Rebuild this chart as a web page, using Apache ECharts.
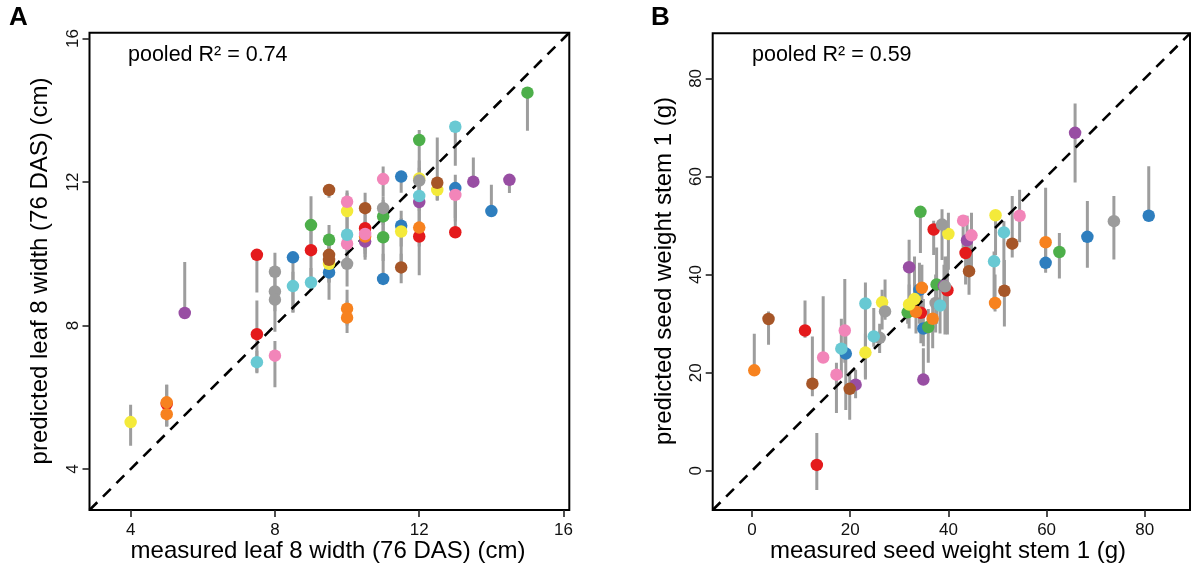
<!DOCTYPE html>
<html>
<head>
<meta charset="utf-8">
<script src="https://cdn.jsdelivr.net/npm/echarts@6/dist/echarts.min.js"></script>
<style>html,body{margin:0;padding:0;background:#fff}#c{width:1192px;height:570px}</style>
</head>
<body>
<div id="c"></div>
<script>
// ---------- Panel A: leaf 8 width, [measured, predicted, low, high] ----------
const A_red    = [[5,5.82,5.19,6.35],[7.5,9.97,8.92,9.97],[7.5,7.76,6.7,8.7],[9,10.1,9.3,10.8],[10.5,10.71,9.9,11.1],[12,10.48,9.4,10.9],[13,10.6,10.6,11.7]];
const A_blue   = [[8.5,9.9,8.36,9.9],[9.5,9.48,8.72,9.9],[11,9.3,9.3,10.0],[11.5,12.15,11.7,12.15],[11.5,10.78,9.7,11.2],[13,11.83,11.0,12.2],[14,11.19,11.19,11.92]];
const A_green  = [[9,10.8,10.0,11.6],[9.5,10.39,9.8,10.8],[11,11.04,10.5,11.5],[11,10.46,9.8,10.9],[12,13.17,12.3,13.45],[15,14.49,13.43,14.49]];
const A_purple = [[5.5,8.35,8.35,9.77],[10.5,10.34,9.83,10.6],[12,11.44,10.6,11.9],[13.5,12.01,12.01,12.68],[14.5,12.06,11.69,12.06]];
const A_orange = [[5,5.86,5.2,6.35],[5,5.53,5.19,6.0],[10,8.47,8.0,9.0],[10,8.22,7.79,8.7],[10.5,10.48,10.0,10.9],[12,10.73,10.2,11.3]];
const A_yellow = [[4,5.31,4.65,5.79],[9.5,9.72,9.2,10.2],[10,11.19,10.6,11.7],[11.5,10.62,10.2,11.0],[12,12.1,11.6,12.4],[12.5,11.78,11.5,12.1]];
const A_brown  = [[9.5,11.78,11.56,11.78],[9.5,9.97,9.4,10.4],[9.5,9.83,9.2,10.3],[10.5,11.27,10.8,11.7],[11.5,9.62,9.18,10.0],[12.5,11.98,11.48,13.24]];
const A_pink   = [[8,7.16,6.28,7.57],[10,11.45,11.0,11.76],[10,10.28,9.8,10.7],[10.5,10.55,10.1,10.9],[11,12.08,11.6,12.43],[13,11.64,10.9,12.0]];
const A_gray   = [[8,9.5,9.0,10.03],[8,8.95,8.4,9.5],[8,8.72,7.83,9.0],[10,9.72,9.09,10.3],[11,11.27,10.8,11.6],[12,12.04,11.5,12.6]];
const A_cyan   = [[7.5,6.98,6.67,7.3],[8.5,9.1,8.36,9.5],[9,9.2,9.0,9.6],[10,10.53,10.1,11.0],[12,11.61,11.2,12.0],[13,13.54,12.45,13.54]];

// ---------- Panel B: seed weight stem 1, [measured, predicted, low, high] ----------
const B_red    = [[10.8,28.6,27.1,34.7],[13.2,1.2,-3.9,7.7],[34.4,32.2,26,38],[37.0,49.2,44,51],[39.8,36.8,27.8,43.7],[43.5,44.4,38,48]];
const B_blue   = [[19.1,23.9,12.4,28],[34.1,36.9,30,42.4],[34.9,29.0,25.4,35],[59.8,42.4,40.4,47],[68.3,47.7,41.4,55.0],[80.8,52.0,52.0,62.1]];
const B_green  = [[31.7,32.3,30,35],[34.3,52.8,44.4,52.8],[35.9,29.3,22,33],[37.6,38.0,30,45.5],[62.6,44.6,39.2,48.5]];
const B_purple = [[21.1,17.55,14.8,20.6],[32.0,41.5,34.9,47.1],[34.9,18.6,18.6,25.0],[39.1,37.7,33,42],[43.8,47.0,40,52],[65.8,68.9,58.8,74.9]];
const B_orange = [[0.47,20.47,20.47,27.96],[33.4,32.4,28,37],[34.6,37.3,31,42],[36.8,31.0,25,35],[49.5,34.2,32.5,40],[59.8,46.6,42.4,57.7]];
const B_yellow = [[23.1,24.1,19,28],[26.5,34.35,28.8,36.9],[32.0,33.9,29,38],[33.1,35.0,31.5,43.7],[40.0,48.3,41,52.6],[49.6,52.1,44,52.1]];
const B_brown  = [[3.37,30.95,25.7,32.5],[12.3,17.76,15.2,27.4],[19.9,16.7,10.4,20],[44.2,40.7,35.9,46],[51.4,36.7,29.4,43],[53.0,46.3,43.5,56]];
const B_pink   = [[14.5,23.1,23.1,35.6],[17.2,19.6,11.8,22],[18.9,28.6,22,39.1],[43.0,51.0,44,51.0],[44.7,48.0,41,52.6],[54.5,52.0,46.6,57.3]];
const B_gray   = [[26.0,27.1,24.0,30],[27.1,32.5,30.8,39],[37.4,34.2,28.2,40],[38.7,50.2,43,53.3],[39.3,37.6,27.8,43.7],[73.7,50.9,43.1,56.0]];
const B_cyan   = [[18.2,24.9,19,31],[23.1,34.1,18.6,38.4],[24.8,27.4,25.3,33.2],[38.3,33.7,28,38],[49.3,42.7,32.9,44.7],[51.3,48.6,38,50.9]];

// axis ranges and tick labels
const A_range = [2.86, 16.16];
const A_ticks = [4, 8, 12, 16];
const B_range = [-8, 89.2];
const B_ticks = [0, 20, 40, 60, 80];

const palette = {red:'#E41A1C', blue:'#2E7EBE', green:'#4DAF4A', purple:'#984EA3', orange:'#F7821F',
  yellow:'#F4EA3A', brown:'#A65628', pink:'#F285B9', gray:'#9B9B9B', cyan:'#68C9D3'};
const groupsA = {red:A_red, blue:A_blue, green:A_green, purple:A_purple, orange:A_orange, yellow:A_yellow, brown:A_brown, pink:A_pink, gray:A_gray, cyan:A_cyan};
const groupsB = {red:B_red, blue:B_blue, green:B_green, purple:B_purple, orange:B_orange, yellow:B_yellow, brown:B_brown, pink:B_pink, gray:B_gray, cyan:B_cyan};

const FONT = 'Liberation Sans, Arial, Helvetica, sans-serif';

function makeAxis(idx, range, ticks) {
  return {
    type: 'value', gridIndex: idx, min: range[0], max: range[1],
    axisLine: {show: false, onZero: false},
    splitLine: {show: false},
    axisTick: {show: true, inside: false, length: 7, customValues: ticks, lineStyle: {color: '#222', width: 1.6}},
    axisLabel: {show: true, customValues: ticks, color: '#111', fontSize: 17, fontFamily: FONT, margin: 12}
  };
}

const series = [];
function addPanel(idx, groups, range) {
  const bars = [];
  Object.keys(groups).forEach(k => groups[k].forEach(d => bars.push([d[0], d[2], d[3]])));
  series.push({
    type: 'custom', xAxisIndex: idx, yAxisIndex: idx, z: 1, clip: true,
    encode: {x: 0, y: [1, 2]},
    data: bars,
    renderItem: function (params, api) {
      const p1 = api.coord([api.value(0), api.value(1)]);
      const p2 = api.coord([api.value(0), api.value(2)]);
      return {type: 'line', shape: {x1: p1[0], y1: p1[1], x2: p2[0], y2: p2[1]},
        style: {stroke: '#9d9d9d', lineWidth: 3}};
    },
    silent: true
  });
  series.push({
    type: 'line', xAxisIndex: idx, yAxisIndex: idx, z: 2, silent: true,
    data: [[range[0], range[0]], [range[1], range[1]]],
    showSymbol: false, symbol: 'none',
    lineStyle: {color: '#000', width: 2.6, type: [11, 8]}
  });
  Object.keys(groups).forEach(k => {
    series.push({
      type: 'scatter', xAxisIndex: idx, yAxisIndex: idx, z: 3, silent: true,
      symbolSize: 12.5,
      itemStyle: {color: palette[k], opacity: 1},
      data: groups[k].map(d => [d[0], d[1]])
    });
  });
}
addPanel(0, groupsA, A_range);
addPanel(1, groupsB, B_range);

const xA = makeAxis(0, A_range, A_ticks);
const yA = makeAxis(0, A_range, A_ticks); yA.axisLabel.rotate = 90; yA.axisLabel.margin = 8;
const xB = makeAxis(1, B_range, B_ticks);
const yB = makeAxis(1, B_range, B_ticks); yB.axisLabel.rotate = 90; yB.axisLabel.margin = 8;

const chart = echarts.init(document.getElementById('c'), null, {renderer: 'canvas'});
chart.setOption({
  animation: false,
  backgroundColor: '#fff',
  grid: [
    {left: 89.5, top: 32.7, width: 479.8, height: 477.3, show: true, borderColor: '#000', borderWidth: 2, backgroundColor: 'transparent'},
    {left: 712.7, top: 33.3, width: 477.3, height: 476.7, show: true, borderColor: '#000', borderWidth: 2, backgroundColor: 'transparent'}
  ],
  xAxis: [xA, xB],
  yAxis: [yA, yB],
  series: series,
  graphic: [
    {type: 'text', left: 9, top: 5, style: {text: 'A', font: 'bold 26px ' + FONT, fill: '#000'}},
    {type: 'text', left: 651, top: 5, style: {text: 'B', font: 'bold 26px ' + FONT, fill: '#000'}},
    {type: 'text', x: 128, y: 55, style: {text: 'pooled R\u00B2 = 0.74', font: '21.5px ' + FONT, fill: '#000', verticalAlign: 'middle'}},
    {type: 'text', x: 752, y: 55, style: {text: 'pooled R\u00B2 = 0.59', font: '21.5px ' + FONT, fill: '#000', verticalAlign: 'middle'}},
    {type: 'text', x: 328, y: 551, style: {text: 'measured leaf 8 width (76 DAS) (cm)', font: '24px ' + FONT, fill: '#000', align: 'center', verticalAlign: 'middle'}},
    {type: 'text', x: 948, y: 551, style: {text: 'measured seed weight stem 1 (g)', font: '24px ' + FONT, fill: '#000', align: 'center', verticalAlign: 'middle'}},
    {type: 'text', x: 40, y: 271, rotation: Math.PI / 2, style: {text: 'predicted leaf 8 width (76 DAS) (cm)', font: '24px ' + FONT, fill: '#000', align: 'center', verticalAlign: 'middle'}},
    {type: 'text', x: 664, y: 271, rotation: Math.PI / 2, style: {text: 'predicted seed weight stem 1 (g)', font: '24px ' + FONT, fill: '#000', align: 'center', verticalAlign: 'middle'}}
  ]
});
</script>
</body>
</html>
